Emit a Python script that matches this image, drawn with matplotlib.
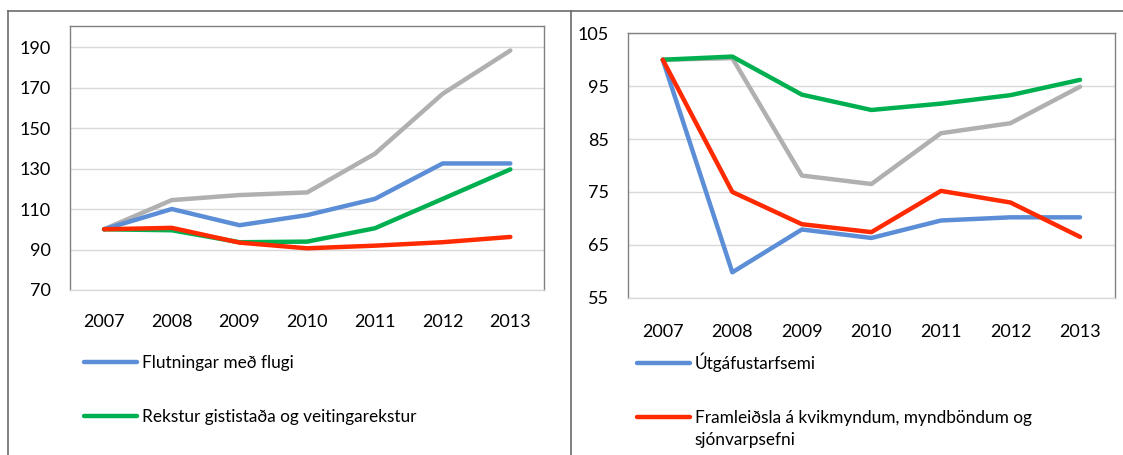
import matplotlib
matplotlib.use("Agg")
import matplotlib.pyplot as plt
from matplotlib.lines import Line2D

OUT_PLOT = "out.png"

years = ["2007", "2008", "2009", "2010", "2011", "2012", "2013"]

# vinstri mynd
flutningar_flug = [100, 110, 102, 107, 115, 132.5, 132.5]
gisting_veitingar = [100, 99.5, 93.6, 93.9, 100.5, 115, 129.6]
vinstri_grar = [100, 114.4, 116.9, 118.2, 137.3, 166.9, 188.3]
vinstri_rauður = [100, 100.7, 93.4, 90.6, 91.9, 93.6, 96.2]
left_ticks = [70, 90, 110, 130, 150, 170, 190]

# hægri mynd
utgafustarfsemi = [100, 59.8, 67.9, 66.3, 69.6, 70.2, 70.2]
kvikmyndir = [100, 75, 68.9, 67.4, 75.2, 73, 66.5]
haegri_graenn = [100, 100.6, 93.4, 90.5, 91.7, 93.3, 96.2]
haegri_grar = [100, 100.3, 78.1, 76.5, 86.1, 88, 94.9]
right_ticks = [55, 65, 75, 85, 95, 105]

BLUE = "#5B8ED6"
GREEN = "#00B050"
GREY = "#B0B0B0"
RED = "#FF2A00"

plt.rcParams["font.family"] = ["Lato", "DejaVu Sans"]
plt.rcParams["font.size"] = 13


def style_axes(ax, ticks, ylim, xpad):
    ax.set_xlim(-0.5, len(years) - 0.5)
    ax.set_ylim(*ylim)
    ax.set_yticks(ticks)
    ax.set_xticks(range(len(years)))
    ax.set_xticklabels(years)
    ax.grid(axis="y", color="#d9d9d9", linewidth=1)
    ax.set_axisbelow(True)
    ax.tick_params(length=0, labelsize=13, colors="black")
    ax.tick_params(axis="y", pad=14)
    ax.tick_params(axis="x", pad=xpad)
    for side in ["left", "top", "right"]:
        ax.spines[side].set_color("#808080")
        ax.spines[side].set_linewidth(1)
    ax.spines["bottom"].set_color("#d9d9d9")
    ax.spines["bottom"].set_linewidth(1)


def draw_lines(ax, series):
    lines = []
    for vals, col in series:
        ln, = ax.plot(range(len(years)), vals, color=col, linewidth=3.2,
                      solid_capstyle="round", solid_joinstyle="round")
        lines.append(ln)
    return lines


fig = plt.figure(figsize=(11.23, 4.55), dpi=100)

# ramma utan um myndirnar
frame = dict(color="#6b6b6b", linewidth=1.2, transform=fig.transFigure)
fig.add_artist(Line2D([7.5 / 1123, 1.0], [1 - 11 / 455, 1 - 11 / 455], **frame))
fig.add_artist(Line2D([7.5 / 1123, 7.5 / 1123], [0, 1 - 11 / 455], **frame))
fig.add_artist(Line2D([571 / 1123, 571 / 1123], [0, 1 - 11 / 455], **frame))

ax1 = fig.add_axes([70.2 / 1123, (455 - 290) / 455, 474 / 1123, 264 / 455])
l_grey, l_blue, l_green, l_red = draw_lines(ax1, [
    (vinstri_grar, GREY), (flutningar_flug, BLUE),
    (gisting_veitingar, GREEN), (vinstri_rauður, RED)])
style_axes(ax1, left_ticks, (70, 200.4), 17)

ax2 = fig.add_axes([628 / 1123, (455 - 297.7) / 455, 486.8 / 1123, 264.4 / 455])
r_grey, r_blue, r_green, r_red = draw_lines(ax2, [
    (haegri_grar, GREY), (utgafustarfsemi, BLUE),
    (haegri_graenn, GREEN), (kvikmyndir, RED)])
style_axes(ax2, right_ticks, (55, 105), 19)

leg_kw = dict(loc="upper left", frameon=False, borderpad=0, borderaxespad=0,
              handlelength=3.1, handletextpad=0.25, labelspacing=2.2,
              fontsize=12.4)
fig.legend([l_blue, l_green],
           ["Flutningar með flugi", "Rekstur gististaða og veitingarekstur"],
           bbox_to_anchor=(84 / 1123, 1 - 355 / 455), **leg_kw)
leg2 = fig.legend([r_blue, r_red],
                  ["Útgáfustarfsemi",
                   "Framleiðsla á kvikmyndum, myndböndum og\nsjónvarpsefni"],
                  bbox_to_anchor=(637 / 1123, 1 - 353 / 455), **leg_kw)
leg2.get_texts()[1].set_linespacing(1.45)
# handfang við fyrstu línu textans eins og í Excel
h = leg2.legend_handles[1]
h.set_ydata([y + 9.5 for y in h.get_ydata()])

fig.savefig(OUT_PLOT, dpi=100)
plt.close(fig)
